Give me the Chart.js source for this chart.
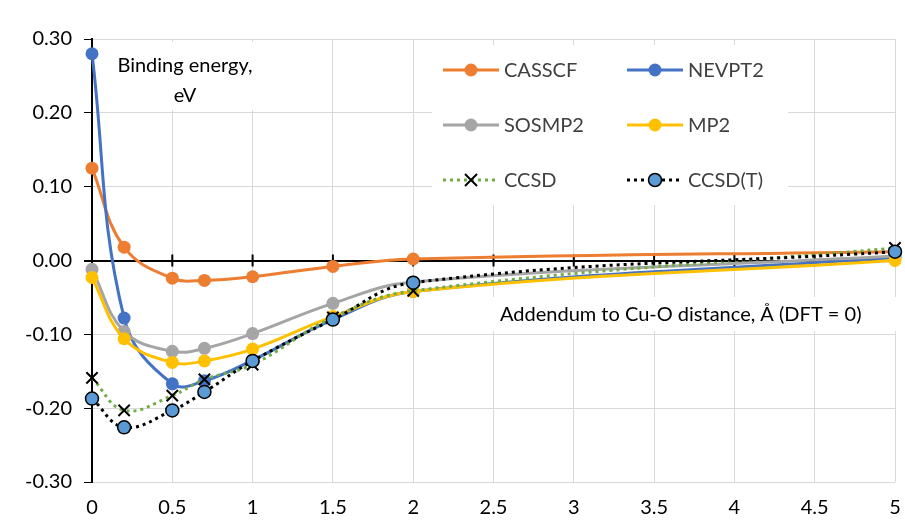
<!DOCTYPE html>
<html>
<head>
<meta charset="utf-8">
<script src="https://cdn.jsdelivr.net/npm/chart.js@4.4.1/dist/chart.umd.min.js"></script>
<style>
  html, body { margin: 0; padding: 0; background: #fff; }
  #wrap { width: 905px; height: 521px; }
</style>
</head>
<body>
<div id="wrap"><canvas id="chart" width="905" height="521"></canvas></div>
<script>
// Addendum to Cu-O distance (Å), binding energies (eV)
const distances = [0, 0.2, 0.5, 0.7, 1, 1.5, 2, 5];
const casscf = [0.125, 0.018, -0.024, -0.027, -0.022, -0.008, 0.002, 0.012];
const nevpt2 = [0.280, -0.078, -0.167, -0.163, -0.135, -0.080, -0.042, 0.004];
const sosmp2 = [-0.012, -0.096, -0.123, -0.119, -0.099, -0.058, -0.029, 0.006];
const mp2 = [-0.023, -0.106, -0.138, -0.136, -0.120, -0.076, -0.042, 0.000];
const ccsd = [-0.159, -0.203, -0.183, -0.161, -0.141, -0.077, -0.041, 0.017];
const ccsdT = [-0.187, -0.226, -0.203, -0.178, -0.136, -0.080, -0.030, 0.012];

const FONT = 'Lato';
const toXY = (vals) => distances.map((d, i) => ({ x: d, y: vals[i] }));

function solid(label, values, color, order) {
    return {
        label: label,
        data: toXY(values),
        borderColor: color,
        backgroundColor: color,
        borderWidth: 3,
        pointRadius: 6.5,
        pointBorderWidth: 0,
        pointBackgroundColor: color,
        tension: 0.4,
        clip: false,
        order: order
    };
}

const datasets = [
    solid('CASSCF', casscf, '#ED7D31', 5),
    solid('NEVPT2', nevpt2, '#4472C4', 4),
    solid('SOSMP2', sosmp2, '#A5A5A5', 3),
    solid('MP2', mp2, '#FFC000', 2),
    {
        label: 'CCSD',
        data: toXY(ccsd),
        borderColor: '#70AD47',
        borderWidth: 3,
        borderDash: [3, 4],
        pointStyle: 'crossRot',
        pointRadius: 8,
        pointBorderColor: '#000',
        pointBorderWidth: 2,
        tension: 0.4,
        clip: false,
        order: 1
    },
    {
        label: 'CCSD(T)',
        data: toXY(ccsdT),
        borderColor: '#000',
        borderWidth: 3,
        borderDash: [3, 4],
        pointRadius: 6.5,
        pointBackgroundColor: '#5B9BD5',
        pointBorderColor: '#000',
        pointBorderWidth: 1.5,
        tension: 0.4,
        clip: false,
        order: 0
    }
];

// white boxes, axis crossing ticks and the in-plot texts
const decorations = {
    id: 'decorations',
    beforeDatasetsDraw(chart) {
        const ctx = chart.ctx;
        const x = chart.scales.x, y = chart.scales.y;
        const y0 = y.getPixelForValue(0);
        ctx.save();
        ctx.strokeStyle = '#000';
        ctx.lineWidth = 2;
        for (let v = 0.5; v <= 5; v += 0.5) {
            const px = x.getPixelForValue(v);
            ctx.beginPath();
            ctx.moveTo(px, y0 - 6);
            ctx.lineTo(px, y0 + 6);
            ctx.stroke();
        }
        // label boxes
        ctx.fillStyle = '#fff';
        ctx.fillRect(108, 42, 156, 68);
        ctx.fillRect(490, 297, 412, 34);
        ctx.fillStyle = '#000';
        ctx.font = '20px ' + FONT;
        ctx.textAlign = 'center';
        ctx.textBaseline = 'middle';
        ctx.fillText('Binding energy,', 185, 66);
        ctx.fillText('eV', 185, 96);
        ctx.textAlign = 'left';
        ctx.fillText('Addendum to Cu-O distance, Å (DFT = 0)', 500, 315);
        ctx.restore();
    },
    afterDatasetsDraw(chart) {
        const ctx = chart.ctx;
        ctx.save();
        ctx.fillStyle = '#fff';
        ctx.fillRect(432, 45, 356, 160);
        const cols = [443, 627];
        const rows = [70, 125, 180];
        chart.data.datasets.forEach((ds, i) => {
            const lx = cols[i % 2], ly = rows[Math.floor(i / 2)];
            ctx.save();
            ctx.strokeStyle = ds.borderColor;
            ctx.lineWidth = 3;
            if (ds.borderDash) ctx.setLineDash(ds.borderDash);
            ctx.beginPath();
            ctx.moveTo(lx, ly);
            ctx.lineTo(lx + 56, ly);
            ctx.stroke();
            ctx.setLineDash([]);
            const mx = lx + 28;
            if (ds.pointStyle === 'crossRot') {
                ctx.strokeStyle = '#000';
                ctx.lineWidth = 2;
                ctx.beginPath();
                ctx.moveTo(mx - 6, ly - 6); ctx.lineTo(mx + 6, ly + 6);
                ctx.moveTo(mx + 6, ly - 6); ctx.lineTo(mx - 6, ly + 6);
                ctx.stroke();
            } else {
                ctx.beginPath();
                ctx.arc(mx, ly, 6.5, 0, Math.PI * 2);
                ctx.fillStyle = ds.pointBackgroundColor;
                ctx.fill();
                if (ds.pointBorderWidth) {
                    ctx.lineWidth = ds.pointBorderWidth;
                    ctx.strokeStyle = ds.pointBorderColor;
                    ctx.stroke();
                }
            }
            ctx.restore();
            ctx.fillStyle = '#404040';
            ctx.font = '20px ' + FONT;
            ctx.textAlign = 'left';
            ctx.textBaseline = 'middle';
            ctx.fillText(ds.label, lx + 61, ly + 1);
        });
        ctx.restore();
    }
};

new Chart(document.getElementById('chart'), {
    type: 'line',
    data: { datasets: datasets },
    options: {
        responsive: false,
        animation: false,
        devicePixelRatio: 1,
        layout: { padding: { top: 39, right: 0, left: 0, bottom: 0 } },
        plugins: { legend: { display: false }, tooltip: { enabled: false } },
        scales: {
            x: {
                type: 'linear',
                min: 0,
                max: 5,
                ticks: {
                    stepSize: 0.5,
                    color: '#000',
                    font: { family: FONT, size: 20 },
                    padding: 14,
                    maxRotation: 0,
                    callback: (v) => String(Math.round(v * 10) / 10)
                },
                grid: { color: '#D9D9D9', lineWidth: 1, drawTicks: false },
                border: { display: false },
                afterFit: (s) => { s.height = 39; s.paddingRight = 10; s.paddingLeft = 0; }
            },
            y: {
                min: -0.3,
                max: 0.3,
                ticks: {
                    stepSize: 0.1,
                    color: '#000',
                    font: { family: FONT, size: 20 },
                    padding: 12,
                    callback: (v) => Math.abs(v) < 1e-9 ? '0.00' : v.toFixed(2)
                },
                grid: {
                    color: (c) => (c.tick && Math.abs(c.tick.value) < 1e-9) ? '#000' : '#D9D9D9',
                    lineWidth: (c) => (c.tick && Math.abs(c.tick.value) < 1e-9) ? 2 : 1,
                    tickColor: '#000',
                    tickLength: 8
                },
                border: { color: '#000', width: 2 },
                afterFit: (s) => { s.width = 92; }
            }
        }
    },
    plugins: [decorations]
});
</script>
</body>
</html>
